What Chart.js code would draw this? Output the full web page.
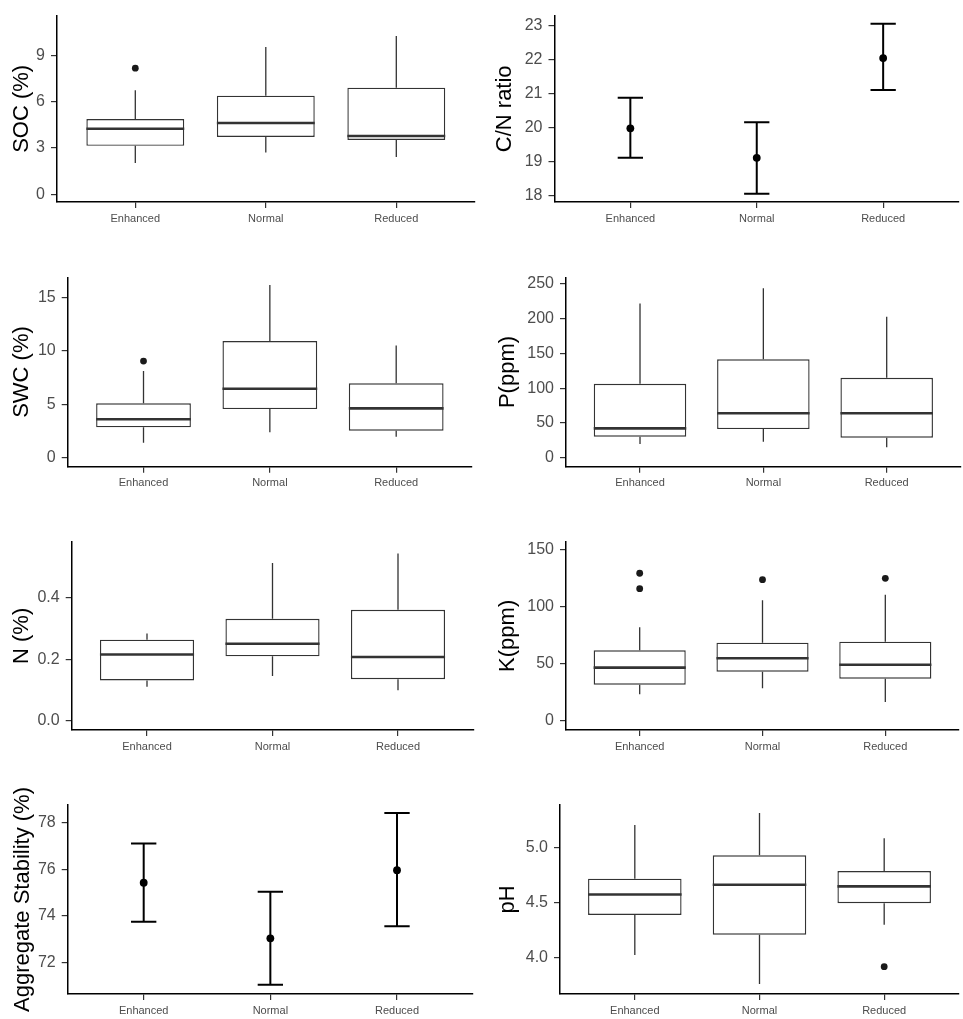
<!DOCTYPE html>
<html>
<head>
<meta charset="utf-8">
<title>Soil properties by precipitation treatment</title>
<script src="https://cdn.jsdelivr.net/npm/chart.js@4.4.0/dist/chart.umd.min.js"></script>
<style>
  html, body { margin: 0; padding: 0; background: #fff; }
  #wrap { position: relative; width: 963px; height: 1019px; overflow: hidden; }
  #wrap canvas { position: absolute; }
</style>
</head>
<body>
<div id="wrap">
  <canvas id="soc"></canvas>
  <canvas id="cn"></canvas>
  <canvas id="swc"></canvas>
  <canvas id="p"></canvas>
  <canvas id="n"></canvas>
  <canvas id="k"></canvas>
  <canvas id="agg"></canvas>
  <canvas id="ph"></canvas>
</div>
<script>
// --- Data ---
const groups = ['Enhanced', 'Normal', 'Reduced'];

// Box plots: lower whisker, Q1, median, Q3, upper whisker, outliers
const socLow = [2.01, 2.70, 2.40];
const socQ1 = [3.13, 3.71, 3.51];
const socMed = [4.24, 4.61, 3.77];
const socQ3 = [4.87, 6.38, 6.90];
const socHigh = [6.73, 9.53, 10.24];
const socOut = [[8.16], [], []];
const socTicks = ['0', '3', '6', '9'];
const socRange = [-0.51, 11.57];

const swcLow = [1.41, 2.38, 1.97];
const swcQ1 = [2.85, 4.56, 2.53];
const swcMed = [3.60, 6.47, 4.63];
const swcQ3 = [5.10, 10.94, 6.97];
const swcHigh = [8.13, 16.19, 10.53];
const swcOut = [[9.06], [], []];
const swcTicks = ['0', '5', '10', '15'];
const swcRange = [-0.84, 16.91];

const pLow = [20, 23.3, 15.3];
const pQ1 = [30.5, 41.5, 29];
const pMed = [42.5, 64, 64];
const pQ3 = [106.3, 141.2, 114.9];
const pHigh = [221, 242.8, 202];
const pOut = [[], [], []];
const pTicks = ['0', '50', '100', '150', '200', '250'];
const pRange = [-12.4, 258.6];

const nLow = [0.111, 0.146, 0.100];
const nQ1 = [0.132, 0.210, 0.136];
const nMed = [0.216, 0.251, 0.208];
const nQ3 = [0.264, 0.332, 0.361];
const nHigh = [0.284, 0.513, 0.544];
const nOut = [[], [], []];
const nTicks = ['0.0', '0.2', '0.4'];
const nRange = [-0.029, 0.582];

const kLow = [23.3, 28.6, 16.6];
const kQ1 = [31.7, 43.1, 37.0];
const kMed = [46.6, 54.8, 49.2];
const kQ3 = [61.8, 68.4, 69.3];
const kHigh = [81.9, 105.5, 110.4];
const kOut = [[129.1, 115.6], [123.5], [124.7]];
const kTicks = ['0', '50', '100', '150'];
const kRange = [-7.9, 156.7];

const phLow = [4.025, 3.76, 4.30];
const phQ1 = [4.39, 4.21, 4.497];
const phMed = [4.576, 4.665, 4.65];
const phQ3 = [4.72, 4.934, 4.79];
const phHigh = [5.21, 5.32, 5.09];
const phOut = [[], [], [3.918]];
const phTicks = ['4.0', '4.5', '5.0'];
const phRange = [3.669, 5.392];

// Mean +/- error plots
const cnMean = [19.97, 19.10, 22.04];
const cnLower = [19.10, 18.04, 21.10];
const cnUpper = [20.87, 20.15, 23.05];
const cnTicks = ['18', '19', '20', '21', '22', '23'];
const cnRange = [17.8, 23.29];

const aggMean = [75.42, 73.03, 75.96];
const aggLower = [73.74, 71.04, 73.55];
const aggUpper = [77.11, 75.03, 78.42];
const aggTicks = ['72', '74', '76', '78'];
const aggRange = [70.64, 78.76];

// --- Look ---
const FONT = '"Liberation Sans", Arial, "DejaVu Sans", sans-serif';
const INK = '#333333';
const TICK_TEXT = '#4d4d4d';

// --- Panel layout: cell [x, y, w, h], plot [left, top, right, bottom], title centre x ---
const panels = [
  { id: 'soc', kind: 'box', title: 'SOC (%)', cell: [0, 0, 480, 260], plot: [57, 14, 474.6, 202], titleX: 22,
    low: socLow, q1: socQ1, med: socMed, q3: socQ3, high: socHigh, out: socOut, ticks: socTicks, range: socRange },
  { id: 'cn', kind: 'err', title: 'C/N ratio', cell: [480, 0, 483, 260], plot: [554.5, 14, 961, 202], titleX: 505,
    mean: cnMean, lower: cnLower, upper: cnUpper, ticks: cnTicks, range: cnRange },
  { id: 'swc', kind: 'box', title: 'SWC (%)', cell: [0, 260, 480, 260], plot: [67.7, 277.3, 472, 466.7], titleX: 22,
    low: swcLow, q1: swcQ1, med: swcMed, q3: swcQ3, high: swcHigh, out: swcOut, ticks: swcTicks, range: swcRange },
  { id: 'p', kind: 'box', title: 'P(ppm)', cell: [480, 260, 483, 260], plot: [566, 277.3, 960.7, 466.7], titleX: 508,
    low: pLow, q1: pQ1, med: pMed, q3: pQ3, high: pHigh, out: pOut, ticks: pTicks, range: pRange },
  { id: 'n', kind: 'box', title: 'N (%)', cell: [0, 520, 480, 250], plot: [71.7, 541.7, 473.3, 730], titleX: 22,
    low: nLow, q1: nQ1, med: nMed, q3: nQ3, high: nHigh, out: nOut, ticks: nTicks, range: nRange },
  { id: 'k', kind: 'box', title: 'K(ppm)', cell: [480, 520, 483, 250], plot: [566, 541.7, 961, 730], titleX: 508,
    low: kLow, q1: kQ1, med: kMed, q3: kQ3, high: kHigh, out: kOut, ticks: kTicks, range: kRange },
  { id: 'agg', kind: 'err', title: 'Aggregate Stability (%)', cell: [0, 770, 480, 249], plot: [67.7, 805, 473, 994], titleX: 23,
    mean: aggMean, lower: aggLower, upper: aggUpper, ticks: aggTicks, range: aggRange },
  { id: 'ph', kind: 'box', title: 'pH', cell: [480, 770, 483, 249], plot: [560, 805, 960, 994], titleX: 508,
    low: phLow, q1: phQ1, med: phMed, q3: phQ3, high: phHigh, out: phOut, ticks: phTicks, range: phRange }
];

// whiskers + median drawn on top of the floating bars
function boxParts(p) {
  return {
    id: 'boxParts',
    afterDatasetsDraw(chart) {
      const ys = chart.scales.y;
      const ctx = chart.ctx;
      const bars = chart.getDatasetMeta(0).data;
      ctx.save();
      ctx.strokeStyle = INK;
      bars.forEach((bar, i) => {
        const { x, width } = bar.getProps(['x', 'width'], true);
        ctx.lineWidth = 1.3;
        ctx.beginPath();
        ctx.moveTo(x, ys.getPixelForValue(p.q3[i]));
        ctx.lineTo(x, ys.getPixelForValue(p.high[i]));
        ctx.moveTo(x, ys.getPixelForValue(p.q1[i]));
        ctx.lineTo(x, ys.getPixelForValue(p.low[i]));
        ctx.stroke();
        const ym = ys.getPixelForValue(p.med[i]);
        ctx.lineWidth = 2.6;
        ctx.beginPath();
        ctx.moveTo(x - width / 2, ym);
        ctx.lineTo(x + width / 2, ym);
        ctx.stroke();
      });
      ctx.restore();
    }
  };
}

// vertical error bars with caps, under the mean points
function errorBars(p) {
  return {
    id: 'errorBars',
    beforeDatasetsDraw(chart) {
      const xs = chart.scales.x, ys = chart.scales.y;
      const ctx = chart.ctx;
      ctx.save();
      ctx.strokeStyle = '#000';
      ctx.lineWidth = 2;
      p.mean.forEach((m, i) => {
        const x = xs.getPixelForValue(i + 1);
        const half = xs.getPixelForValue(i + 1.1) - x;
        const yl = ys.getPixelForValue(p.lower[i]);
        const yu = ys.getPixelForValue(p.upper[i]);
        ctx.beginPath();
        ctx.moveTo(x, yl); ctx.lineTo(x, yu);
        ctx.moveTo(x - half, yu); ctx.lineTo(x + half, yu);
        ctx.moveTo(x - half, yl); ctx.lineTo(x + half, yl);
        ctx.stroke();
      });
      ctx.restore();
    }
  };
}

function makeScales(p) {
  const [cx, cy, cw, ch] = p.cell;
  const [left, top, right, bottom] = p.plot;
  const yWidth = left - cx;
  const xHeight = cy + ch - bottom;
  return {
    x: {
      type: 'linear',
      min: 0.4,
      max: 3.6,
      offset: false,
      afterBuildTicks: s => { s.ticks = groups.map((g, i) => ({ value: i + 1 })); },
      afterFit: s => { s.height = xHeight; },
      ticks: {
        callback: (v, i) => groups[i],
        font: { family: FONT, size: 11 },
        color: TICK_TEXT,
        padding: 4,
        maxRotation: 0,
        autoSkip: false
      },
      grid: { display: true, drawOnChartArea: false, drawTicks: true, tickLength: 6, color: INK, lineWidth: 1.2, offset: false },
      border: { display: true, color: '#000', width: 1.5 }
    },
    y: {
      type: 'linear',
      min: p.range[0],
      max: p.range[1],
      afterBuildTicks: s => { s.ticks = p.ticks.map(t => ({ value: parseFloat(t) })); },
      afterFit: s => { s.width = yWidth; },
      ticks: {
        callback: (v, i) => p.ticks[i],
        font: { family: FONT, size: 16 },
        color: TICK_TEXT,
        padding: 6
      },
      grid: { display: true, drawOnChartArea: false, drawTicks: true, tickLength: 6, color: INK, lineWidth: 1.2 },
      border: { display: true, color: '#000', width: 1.5 },
      title: {
        display: true,
        text: p.title,
        color: '#000',
        font: { family: FONT, size: 22, lineHeight: 1.2 },
        padding: { top: p.titleX - cx - 13.2, bottom: 0 }
      }
    }
  };
}

function renderPanel(p) {
  const [cx, cy, cw, ch] = p.cell;
  const [left, top, right, bottom] = p.plot;
  const canvas = document.getElementById(p.id);
  canvas.width = cw;
  canvas.height = ch;
  canvas.style.left = cx + 'px';
  canvas.style.top = cy + 'px';
  canvas.style.width = cw + 'px';
  canvas.style.height = ch + 'px';

  let config;
  if (p.kind === 'box') {
    const outliers = [];
    p.out.forEach((vals, i) => vals.forEach(v => outliers.push({ x: i + 1, y: v })));
    config = {
      type: 'bar',
      data: {
        datasets: [{
          label: 'IQR',
          data: groups.map((g, i) => ({ x: i + 1, y: [p.q1[i], p.q3[i]] })),
          backgroundColor: '#ffffff',
          borderColor: INK,
          borderWidth: 1.4,
          borderSkipped: false,
          categoryPercentage: 1,
          barPercentage: 0.75
        }, {
          type: 'scatter',
          label: 'Outliers',
          data: outliers,
          pointRadius: 3.4,
          pointBackgroundColor: '#1a1a1a',
          pointBorderWidth: 0
        }]
      },
      plugins: [boxParts(p)]
    };
  } else {
    config = {
      type: 'scatter',
      data: {
        datasets: [{
          label: 'Mean',
          data: p.mean.map((m, i) => ({ x: i + 1, y: m })),
          pointRadius: 3.9,
          pointBackgroundColor: '#000',
          pointBorderWidth: 0
        }]
      },
      plugins: [errorBars(p)]
    };
  }

  config.options = {
    responsive: false,
    animation: false,
    events: [],
    layout: { padding: { left: 0, top: top - cy, right: cx + cw - right, bottom: 0 } },
    plugins: { legend: { display: false }, tooltip: { enabled: false } },
    scales: makeScales(p)
  };
  new Chart(canvas, config);
}

panels.forEach(renderPanel);
</script>
</body>
</html>
